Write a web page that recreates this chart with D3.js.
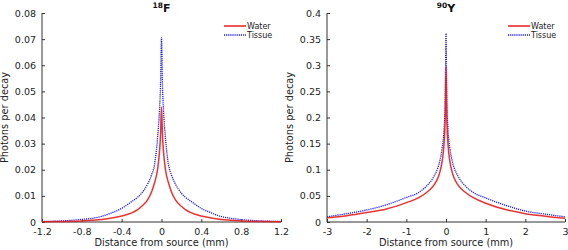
<!DOCTYPE html>
<html>
<head>
<meta charset="utf-8">
<script src="https://cdn.jsdelivr.net/npm/d3@7"></script>
<style>
  body { margin: 0; background: #fff; }
  svg { font-family: "DejaVu Sans", sans-serif; }
</style>
</head>
<body>
<div id="chart"></div>
<script>
// Left panel: 18F
const fX = [-1.2, -1.0, -0.8, -0.7, -0.6, -0.5, -0.4, -0.3, -0.24, -0.2, -0.14, -0.1, -0.07, -0.04, -0.02, -0.01, 0,
            0.01, 0.02, 0.04, 0.07, 0.1, 0.14, 0.2, 0.24, 0.3, 0.4, 0.5, 0.6, 0.7, 0.8, 1.0, 1.2];
const fWater = [0.0001, 0.0002, 0.0004, 0.0007, 0.0010, 0.0015, 0.0023, 0.0035, 0.0047, 0.0060, 0.0085, 0.0115, 0.0150, 0.0200, 0.0270, 0.0330, 0.0440,
                0.0330, 0.0270, 0.0200, 0.0150, 0.0115, 0.0085, 0.0060, 0.0047, 0.0035, 0.0023, 0.0015, 0.0010, 0.0007, 0.0004, 0.0002, 0.0001];
const fTissue = [0.0002, 0.0004, 0.0010, 0.0014, 0.0022, 0.0035, 0.0052, 0.0078, 0.0095, 0.0110, 0.0145, 0.0180, 0.0220, 0.0320, 0.0430, 0.0520, 0.0705,
                 0.0520, 0.0430, 0.0320, 0.0220, 0.0180, 0.0145, 0.0110, 0.0095, 0.0078, 0.0052, 0.0035, 0.0021, 0.0014, 0.0009, 0.0004, 0.0002];
const fXTicks = [-1.2, -0.8, -0.4, 0, 0.4, 0.8, 1.2];
const fYTicks = [0, 0.01, 0.02, 0.03, 0.04, 0.05, 0.06, 0.07, 0.08];

// Right panel: 90Y
const yX = [-3, -2.5, -2, -1.5, -1, -0.7, -0.5, -0.3, -0.2, -0.15, -0.1, -0.05, -0.02, 0,
            0.02, 0.05, 0.1, 0.15, 0.2, 0.3, 0.5, 0.7, 1, 1.5, 2, 2.5, 3];
const yWater = [0.008, 0.012, 0.018, 0.025, 0.037, 0.046, 0.056, 0.071, 0.085, 0.097, 0.115, 0.150, 0.200, 0.297,
                0.200, 0.150, 0.115, 0.097, 0.085, 0.071, 0.056, 0.046, 0.036, 0.024, 0.016, 0.011, 0.007];
const yTissue = [0.010, 0.016, 0.023, 0.033, 0.047, 0.056, 0.068, 0.088, 0.105, 0.119, 0.140, 0.177, 0.232, 0.361,
                 0.232, 0.177, 0.140, 0.119, 0.105, 0.088, 0.068, 0.056, 0.046, 0.032, 0.021, 0.015, 0.010];
const yXTicks = [-3, -2, -1, 0, 1, 2, 3];
const yYTicks = [0, 0.05, 0.1, 0.15, 0.2, 0.25, 0.3, 0.35, 0.4];

const width = 568;
const height = 250;

const svg = d3.select("#chart")
    .append("svg")
    .attr("width", width)
    .attr("height", height);

function drawPanel(opts) {
  const x = d3.scaleLinear().domain(opts.xDomain).range([opts.left, opts.right]);
  const y = d3.scaleLinear().domain(opts.yDomain).range([222, 13]);
  const g = svg.append("g");

  // axes with inward ticks (matlab style)
  const xAxis = d3.axisBottom(x).tickValues(opts.xTicks).tickSize(-3).tickPadding(6)
      .tickFormat(d => String(d));
  const yAxis = d3.axisLeft(y).tickValues(opts.yTicks).tickSize(-3).tickPadding(6)
      .tickFormat(d => String(d));

  const gx = g.append("g").attr("transform", `translate(0,222)`).call(xAxis);
  const gy = g.append("g").attr("transform", `translate(${opts.left},0)`).call(yAxis);
  [gx, gy].forEach(a => {
    a.select(".domain").attr("stroke", "#333").attr("stroke-width", 1);
    a.selectAll(".tick line").attr("stroke", "#333");
    a.selectAll("text").attr("fill", "#222").style("font-size", "9.5px")
      .style("font-family", "DejaVu Sans, sans-serif");
  });
  gx.select(".domain").attr("d", `M${opts.left},0H${opts.right}`);
  gy.select(".domain").attr("d", `M0,222V13`);

  const line = d3.line().curve(d3.curveMonotoneX).x(d => x(d[0])).y(d => y(d[1]));
  const water = opts.xs.map((v, i) => [v, opts.water[i]]);
  const tissue = opts.xs.map((v, i) => [v, opts.tissue[i]]);

  g.append("path").datum(tissue)
      .attr("fill", "none").attr("stroke", "#1f1fe0").attr("stroke-width", 1.3)
      .attr("stroke-dasharray", "1.2,0.9").attr("d", line);
  g.append("path").datum(water)
      .attr("fill", "none").attr("stroke", "#e81c1c").attr("stroke-width", 1.5)
      .attr("opacity", 0.9).attr("d", line);

  // title with superscript
  const t = g.append("text").attr("x", (opts.left + opts.right) / 2).attr("y", 12)
      .attr("text-anchor", "middle").attr("font-weight", "bold").attr("fill", "#111");
  t.append("tspan").attr("font-size", "7.5px").attr("dy", "-4").text(opts.sup);
  t.append("tspan").attr("font-size", "11px").attr("dy", "4").text(opts.title);

  // x label
  g.append("text").attr("x", (opts.left + opts.right) / 2).attr("y", 246)
      .attr("text-anchor", "middle").attr("fill", "#222").style("font-size", "9.8px")
      .text("Distance from source (mm)");
  // y label
  g.append("text").attr("transform", `translate(${opts.left - 34},117.5) rotate(-90)`)
      .attr("text-anchor", "middle").attr("fill", "#222").style("font-size", "9.8px")
      .text("Photons per decay");

  // legend
  const lx = opts.right - 57;
  const items = [["Water", "#e81c1c", null, 1.5], ["Tissue", "#1f1fe0", "1.2,0.9", 1.3]];
  items.forEach((it, i) => {
    const ly = 26 + i * 9;
    g.append("line").attr("x1", lx).attr("x2", lx + 22).attr("y1", ly).attr("y2", ly)
        .attr("stroke", it[1]).attr("stroke-width", it[3])
        .attr("stroke-dasharray", it[2]);
    g.append("text").attr("x", lx + 23).attr("y", ly + 3)
        .attr("fill", "#222").style("font-size", "8px").text(it[0]);
  });
}

drawPanel({
  left: 42, right: 281, xDomain: [-1.2, 1.2], yDomain: [0, 0.08],
  xTicks: fXTicks, yTicks: fYTicks, xs: fX, water: fWater, tissue: fTissue,
  sup: "18", title: "F"
});

drawPanel({
  left: 327, right: 565, xDomain: [-3, 3], yDomain: [0, 0.4],
  xTicks: yXTicks, yTicks: yYTicks, xs: yX, water: yWater, tissue: yTissue,
  sup: "90", title: "Y"
});
</script>
</body>
</html>
